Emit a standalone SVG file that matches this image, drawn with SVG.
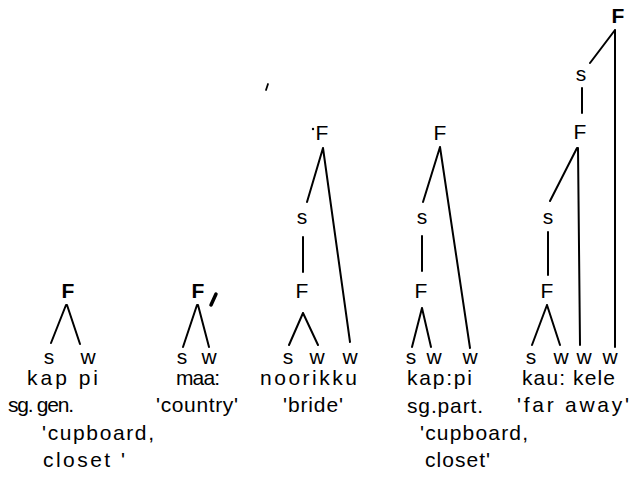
<svg xmlns="http://www.w3.org/2000/svg" width="631" height="479" viewBox="0 0 631 479">
<style>
text{font-family:"Liberation Sans","DejaVu Sans",sans-serif;font-size:21px;fill:#000}
.n{text-anchor:middle}
.b{font-weight:bold}
.l{stroke:#000;stroke-width:2;fill:none;stroke-linecap:round}
</style>
<rect width="631" height="479" fill="#fff"/>
<g id="connectors" class="l">
<path d="M66 305L51 343M67 305L80 344"/>
<path d="M197 305L183 347M198 305L209 347"/>
<path d="M323 148L307 202M323 148L350 342M303 237L303 272M303 313L289 345M303 313L318 345"/>
<path d="M440 147L423 202M440 147L470 348M422 236L422 271M422 308L412 347M422 308L431 347"/>
<path d="M615 30L590 63M615 30L615 347M582 88L582 113M577 148L550 201M578 148L580 345M548 232L548 275M547 305L532 345M547 305L560 345"/>
</g>
<g id="tree1">
<text class="n b" x="68" y="298">F</text>
<text class="n" x="49" y="364">s</text>
<text class="n" x="88" y="364">w</text>
<text x="27" y="385" textLength="71" lengthAdjust="spacing">kap pi</text>
<text x="8" y="412" textLength="66" lengthAdjust="spacing">sg. gen.</text>
<text x="42" y="440" textLength="112" lengthAdjust="spacing">'cupboard,</text>
<text x="43" y="467" textLength="82" lengthAdjust="spacing">closet '</text>
</g>
<g id="tree2">
<text class="n b" x="198" y="298">F</text>
<path d="M216 294L211 305" stroke="#000" stroke-width="3.5" stroke-linecap="round"/>
<text class="n" x="182" y="364">s</text>
<text class="n" x="209" y="364">w</text>
<text x="176" y="385" textLength="44" lengthAdjust="spacing">maa:</text>
<text x="156" y="412" textLength="82" lengthAdjust="spacing">'country'</text>
</g>
<g id="tree3">
<circle cx="313" cy="129" r="1.2" fill="#000"/>
<text class="n" x="322" y="140">F</text>
<text class="n" x="302" y="224">s</text>
<text class="n" x="302" y="298">F</text>
<text class="n" x="288" y="364">s</text>
<text class="n" x="317" y="364">w</text>
<text class="n" x="350" y="364">w</text>
<text x="260" y="385" textLength="97" lengthAdjust="spacing">noorikku</text>
<text x="283" y="412" textLength="60" lengthAdjust="spacing">'bride'</text>
</g>
<g id="tree4">
<text class="n" x="440" y="140">F</text>
<text class="n" x="422" y="224">s</text>
<text class="n" x="421" y="298">F</text>
<text class="n" x="411" y="364">s</text>
<text class="n" x="434" y="364">w</text>
<text class="n" x="470" y="364">w</text>
<text x="407" y="385" textLength="65" lengthAdjust="spacing">kap:pi</text>
<text x="407" y="413" textLength="76" lengthAdjust="spacing">sg.part.</text>
<text x="420" y="440" textLength="108" lengthAdjust="spacing">'cupboard,</text>
<text x="425" y="467" textLength="65" lengthAdjust="spacing">closet'</text>
</g>
<g id="tree5">
<text class="n b" x="618" y="23">F</text>
<text class="n" x="581" y="81">s</text>
<text class="n" x="580" y="139">F</text>
<text class="n" x="548" y="224">s</text>
<text class="n" x="547" y="298">F</text>
<text class="n" x="531" y="364">s</text>
<text class="n" x="561" y="364">w</text>
<text class="n" x="584" y="364">w</text>
<text class="n" x="610" y="364">w</text>
<text x="522" y="385" textLength="93" lengthAdjust="spacing">kau: kele</text>
<text x="517" y="412" textLength="112" lengthAdjust="spacing">'far away'</text>
</g>
<path d="M268 84L266 90" stroke="#000" stroke-width="1.8" stroke-linecap="round"/>
</svg>
